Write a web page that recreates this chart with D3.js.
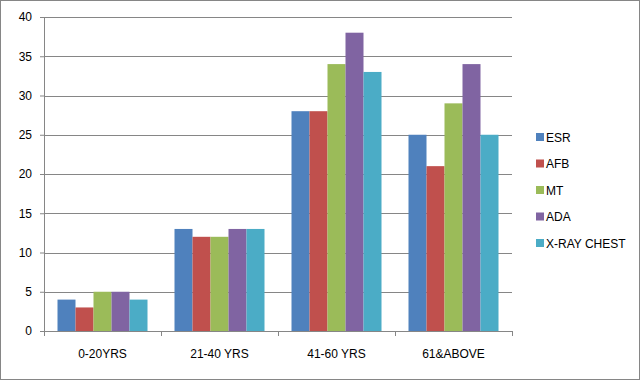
<!DOCTYPE html>
<html>
<head>
<meta charset="utf-8">
<script src="https://cdn.jsdelivr.net/npm/d3@7"></script>
<style>
  body { margin: 0; background: #fff; }
  svg text { font-family: "Liberation Sans", Arial, sans-serif; font-size: 12px; fill: #000; }
</style>
</head>
<body>
<div id="chart"></div>
<script>
// age groups and test series
const categories = ["0-20YRS", "21-40 YRS", "41-60 YRS", "61&ABOVE"];
const seriesNames = ["ESR", "AFB", "MT", "ADA", "X-RAY CHEST"];
const esr   = [4, 13, 28, 25];
const afb   = [3, 12, 28, 21];
const mt    = [5, 12, 34, 29];
const ada   = [5, 13, 38, 34];
const xray  = [4, 13, 33, 25];
const yTicks = [0, 5, 10, 15, 20, 25, 30, 35, 40];
const colors = ["#4F81BD", "#C0504D", "#9BBB59", "#8064A2", "#4BACC6"];

const seriesValues = [esr, afb, mt, ada, xray];

const width = 640, height = 380;
const plot = { left: 44, right: 512, top: 17, bottom: 331 };

const svg = d3.select("#chart").append("svg")
  .attr("width", width).attr("height", height);

// outer chart border
svg.append("rect")
  .attr("x", 0.5).attr("y", 0.5)
  .attr("width", width - 1).attr("height", height - 1)
  .attr("fill", "#fff").attr("stroke", "#868686");

const x0 = d3.scaleBand()
  .domain(categories)
  .range([plot.left, plot.right])
  .paddingInner(0).paddingOuter(0);

// bar cluster inside each band: gap width 150%
const x1 = d3.scaleBand()
  .domain(seriesNames)
  .range([0, x0.bandwidth()])
  .paddingInner(0)
  .paddingOuter(0.75);

const y = d3.scaleLinear().domain([0, 40]).range([plot.bottom, plot.top]);

// gridlines + y ticks
const yAxis = svg.append("g")
  .attr("transform", `translate(${plot.left},0)`)
  .call(d3.axisLeft(y).tickValues(yTicks).tickSize(4).tickPadding(8));
yAxis.select(".domain").attr("stroke", "#868686");
yAxis.selectAll(".tick line").attr("stroke", "#868686");
yAxis.selectAll("text").style("font-size", "12px");

svg.append("g")
  .selectAll("line")
  .data(yTicks.filter(d => d > 0))
  .join("line")
  .attr("x1", plot.left).attr("x2", plot.right)
  .attr("y1", d => Math.round(y(d)) + 0.5).attr("y2", d => Math.round(y(d)) + 0.5)
  .attr("stroke", "#868686");

// bars
const groups = svg.append("g")
  .selectAll("g")
  .data(categories)
  .join("g")
  .attr("transform", d => `translate(${x0(d)},0)`);

groups.selectAll("rect")
  .data((c, ci) => seriesNames.map((s, si) => ({ s, si, v: seriesValues[si][ci] })))
  .join("rect")
  .attr("x", d => x1(d.s))
  .attr("width", x1.bandwidth())
  .attr("y", d => y(d.v))
  .attr("height", d => y(0) - y(d.v))
  .attr("fill", d => colors[d.si]);

// x axis
const xAxis = svg.append("g")
  .attr("transform", `translate(0,${plot.bottom})`)
  .call(d3.axisBottom(x0).tickSize(0).tickPadding(18));
xAxis.select(".domain").attr("stroke", "#868686");
xAxis.selectAll("text").style("font-size", "12px");

// category boundary ticks
const bounds = categories.map(c => x0(c)).concat([plot.right]);
svg.append("g")
  .selectAll("line")
  .data(bounds)
  .join("line")
  .attr("x1", d => Math.round(d) + 0.5).attr("x2", d => Math.round(d) + 0.5)
  .attr("y1", plot.bottom).attr("y2", plot.bottom + 5)
  .attr("stroke", "#868686");

// legend
const legend = svg.append("g").attr("transform", "translate(536,137)");
const items = legend.selectAll("g")
  .data(seriesNames)
  .join("g")
  .attr("transform", (d, i) => `translate(0,${i * 26.5})`);
items.append("rect")
  .attr("x", 0).attr("y", -4)
  .attr("width", 8).attr("height", 8)
  .attr("fill", (d, i) => colors[i]);
items.append("text")
  .attr("x", 10).attr("y", 4.5)
  .text(d => d);
</script>
</body>
</html>
